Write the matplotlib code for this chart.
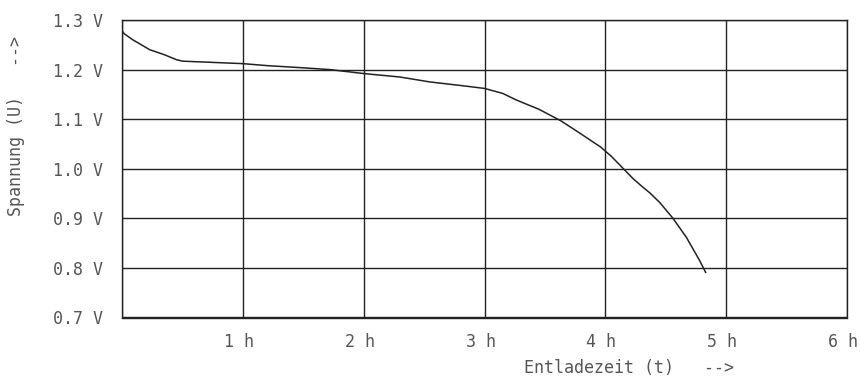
import numpy as np
import matplotlib
matplotlib.use('Agg')
import matplotlib.pyplot as plt
import matplotlib.transforms as mtrans

# discharge curve
zeit_h = [0.0, 0.02, 0.09, 0.23, 0.35, 0.45, 0.5, 0.7, 0.9, 1.0, 1.2, 1.47, 1.72,
          2.0, 2.3, 2.55, 2.8, 3.0, 3.15, 3.27, 3.45, 3.63, 3.8, 3.96, 4.05, 4.15,
          4.23, 4.3, 4.37, 4.45, 4.56, 4.67, 4.78, 4.83]
spannung_v = [1.278, 1.272, 1.26, 1.24, 1.23, 1.22, 1.217, 1.215, 1.213, 1.212, 1.208,
              1.204, 1.2, 1.192, 1.185, 1.175, 1.168, 1.162, 1.152, 1.138, 1.12, 1.097,
              1.07, 1.044, 1.025, 1.0, 0.98, 0.965, 0.951, 0.932, 0.9, 0.862, 0.815, 0.791]

x_ticks = [0, 1, 2, 3, 4, 5, 6]
x_labels = ['', '1 h', '2 h', '3 h', '4 h', '5 h', '6 h']
y_ticks = [0.7, 0.8, 0.9, 1.0, 1.1, 1.2, 1.3]
y_labels = ['0.7 V', '0.8 V', '0.9 V', '1.0 V', '1.1 V', '1.2 V', '1.3 V']

font = 'DejaVu Sans Mono'
txt_col = '#555555'
line_col = '#222222'

fig = plt.figure(figsize=(8.6, 3.79), dpi=100)
ax = fig.add_axes([122 / 860, 1 - 317.5 / 379, (847 - 122) / 860, (317.5 - 20) / 379])

ax.plot(zeit_h, spannung_v, color=line_col, linewidth=1.1)

ax.set_xlim(0, 6)
ax.set_ylim(0.7, 1.3)
ax.set_xticks(x_ticks)
ax.set_xticklabels(x_labels, fontfamily=font, fontsize=12, color=txt_col)
ax.set_yticks(y_ticks)
ax.set_yticklabels(y_labels, fontfamily=font, fontsize=12, color=txt_col)
ax.tick_params(axis='x', length=0, pad=11)
ax.tick_params(axis='y', length=0, pad=14)
ax.grid(True, color=line_col, linewidth=1.0)
for s in ax.spines.values():
    s.set_color(line_col)
    s.set_linewidth(1.0)

# nudge hour labels a little to the left, like the plotter did
shift = mtrans.ScaledTranslation(-4 / 100, 0, fig.dpi_scale_trans)
for lbl in ax.get_xticklabels():
    lbl.set_transform(lbl.get_transform() + shift)

fig.text(629 / 860, 1 - 368 / 379, 'Entladezeit (t)   -->', fontfamily=font,
         fontsize=12, color=txt_col, ha='center', va='center')
fig.text(16 / 860, 1 - 125.5 / 379, 'Spannung (U)   -->', fontfamily=font,
         fontsize=12, color=txt_col, ha='center', va='center', rotation=90)

fig.savefig('out.png', dpi=100)
